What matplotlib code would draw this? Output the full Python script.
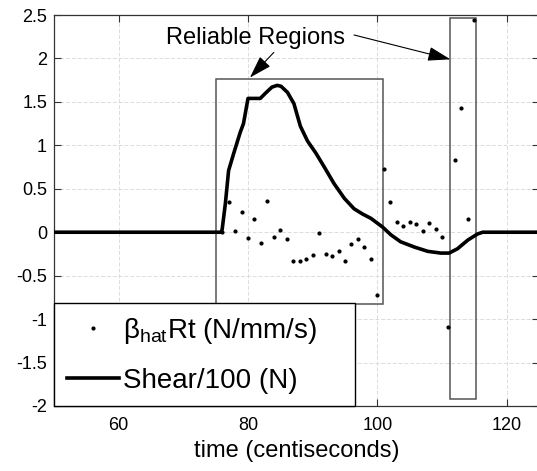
import numpy as np
import matplotlib
matplotlib.use('Agg')
import matplotlib.pyplot as plt
from matplotlib.patches import Rectangle

plt.rcParams['font.family'] = ['Liberation Sans', 'DejaVu Sans']
plt.rcParams['axes.unicode_minus'] = False

# beta_hat * Rt estimates (one per centisecond)
t_beta = [76, 77, 78, 79, 80, 81, 82, 83, 84, 85, 86, 87, 88, 89, 90, 91, 92, 93, 94, 95,
          96, 97, 98, 99, 100, 101, 102, 103, 104, 105, 106, 107, 108, 109, 110, 111, 112, 113, 114, 115]
beta_rt = [0.0, 0.35, 0.01, 0.23, -0.07, 0.15, -0.12, 0.36, -0.05, 0.02, -0.08, -0.33, -0.33, -0.31,
           -0.26, -0.01, -0.25, -0.27, -0.22, -0.33, -0.13, -0.08, -0.17, -0.31, -0.72, 0.73, 0.35,
           0.12, 0.07, 0.12, 0.10, 0.01, 0.11, 0.04, -0.05, -1.09, 0.83, 1.43, 0.15, 2.44]

# shear / 100
t_shear = [50, 75.8, 76.0, 76.5, 77.0, 77.8, 78.8, 79.3, 80.0, 80.9, 81.9, 82.7, 83.7, 84.5, 85.1,
           86.1, 87.1, 88.1, 89.2, 90.5, 91.8, 93.3, 94.9, 96.4, 97.7, 99.0, 100.8, 102.1, 103.6,
           105.7, 107.8, 109.8, 111.1, 112.4, 114.0, 115.5, 116.3, 125]
shear = [0, 0, 0.03, 0.33, 0.71, 0.91, 1.15, 1.25, 1.54, 1.54, 1.54, 1.60, 1.67, 1.69, 1.68,
         1.61, 1.48, 1.22, 1.05, 0.91, 0.75, 0.56, 0.39, 0.27, 0.21, 0.16, 0.06, -0.03, -0.11,
         -0.17, -0.22, -0.24, -0.24, -0.19, -0.09, -0.02, 0.0, 0]

# reliable regions (t0, t1, y0, y1)
region1 = (75.1, 100.9, -0.83, 1.76)
region2 = (111.25, 115.3, -1.92, 2.47)

xticks = [60, 80, 100, 120]
yticks = [-2, -1.5, -1, -0.5, 0, 0.5, 1, 1.5, 2, 2.5]

fig = plt.figure(figsize=(5.37, 4.71), dpi=100)
ax = fig.add_axes([54/537, 65/471, 485/537, 391/471])

ax.grid(True, color='#dcdcdc', linestyle=(0, (4, 2)), linewidth=0.7)
ax.set_axisbelow(True)

for (a, b, y0, y1) in (region1, region2):
    ax.add_patch(Rectangle((a, y0), b - a, y1 - y0, fill=False, ec='#555555', lw=1.1, zorder=2))

ax.plot(t_beta, beta_rt, '.', color='k', ms=4, label='β$_{\\mathregular{hat}}$Rt (N/mm/s)', zorder=3)
ax.plot(t_shear, shear, '-', color='k', lw=2.6, label='Shear/100 (N)', zorder=3,
        solid_joinstyle='round')

ax.text(81.2, 2.24, 'Reliable Regions', ha='center', va='center', fontsize=17)
aprops = dict(arrowstyle='-|>,head_length=0.7,head_width=0.22', color='k', lw=0.8,
              mutation_scale=20, shrinkA=0, shrinkB=0)
ax.annotate('', xy=(80.3, 1.78), xytext=(84.0, 2.07), arrowprops=aprops)
ax.annotate('', xy=(111.3, 1.99), xytext=(96.4, 2.27), arrowprops=aprops)

ax.set_xlim(50, 125)
ax.set_ylim(-2, 2.5)
ax.set_xticks(xticks)
ax.set_yticks(yticks)
ax.set_yticklabels(['%g' % v for v in yticks])
ax.tick_params(direction='in', length=5, width=0.8, top=True, right=True, labelsize=13, color='#333333')
ax.tick_params(axis='y', pad=5)
ax.tick_params(axis='x', pad=8)
for s in ax.spines.values():
    s.set_color('#333333')
    s.set_linewidth(0.9)
ax.set_xlabel('time (centiseconds)', fontsize=17, labelpad=4)

leg = ax.legend(loc='lower left', bbox_to_anchor=(0, 0, 0.621, 0.263), mode='expand',
                borderaxespad=0, fontsize=20, fancybox=False, framealpha=1, edgecolor='k',
                handlelength=1.9, handletextpad=0.12, labelspacing=0.79, borderpad=0.45)
leg.get_frame().set_linewidth(1.0)
leg.set_zorder(5)

fig.savefig('out.png', dpi=100)
